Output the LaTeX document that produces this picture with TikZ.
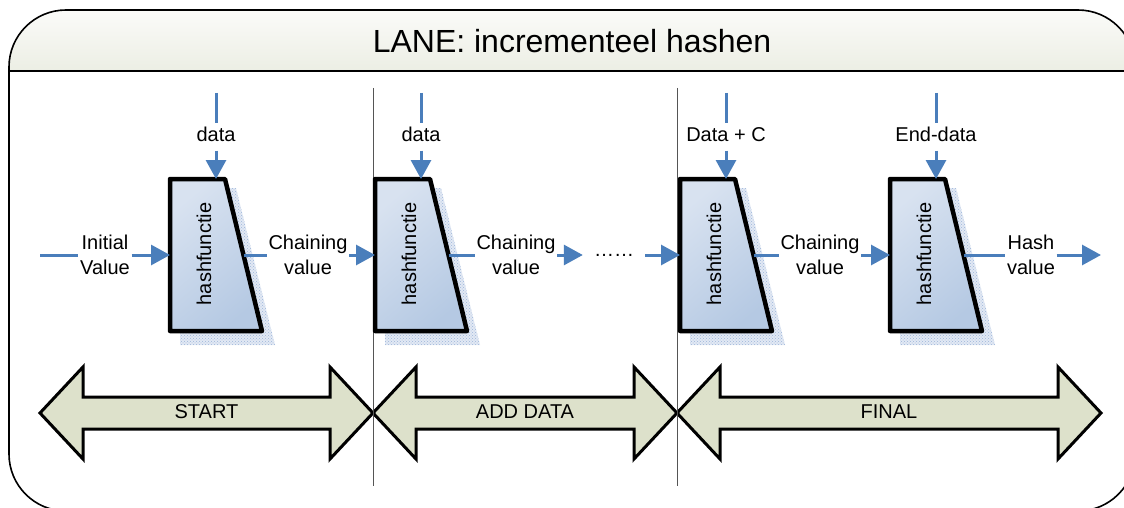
\documentclass[tikz,border=0pt]{standalone}
\usepackage{fontspec}
\setmainfont{Liberation Sans}
\usetikzlibrary{arrows.meta,patterns,calc}

\definecolor{flowblue}{HTML}{4A7EBB}
\definecolor{blockdark}{HTML}{B5C9E3}
\definecolor{blocklight}{HTML}{D8E2F0}
\definecolor{shadowblue}{HTML}{9DB5DA}
\definecolor{shadowbase}{HTML}{E2E9F4}
\definecolor{phasefill}{HTML}{DDE1CB}
\definecolor{bandtop}{HTML}{FDFDFC}
\definecolor{bandbottom}{HTML}{ECEEE4}
\definecolor{sepgrey}{HTML}{555555}

\tikzset{
  flow/.style={draw=flowblue, line width=3pt},
  flowarrow/.style={flow, -{Triangle[length=19pt,width=20pt]}},
  lbl/.style={fill=white, inner xsep=1.5pt, inner ysep=0pt, align=center,
    font=\fontsize{20}{25}\selectfont},
  datalbl/.style={fill=white, inner xsep=1.5pt, inner ysep=4pt,
    text height=14.5pt, text depth=4.5pt, font=\fontsize{20}{25}\selectfont},
  phase/.style={draw=black, line width=3pt, line join=miter, fill=phasefill},
  phaselbl/.style={font=\fontsize{20}{24}\selectfont},
  sepline/.style={draw=sepgrey, line width=1pt},
  % one compression step: shadowed trapezoid with in/out/top ports
  hashblock/.pic={
    \fill[shadowbase] (10,-9) -- (66,-9) -- (105,-166) -- (10,-166) -- cycle;
    \fill[pattern=crosshatch dots, pattern color=shadowblue]
      (10,-9) -- (66,-9) -- (105,-166) -- (10,-166) -- cycle;
    \shade[top color=blocklight, bottom color=blockdark, shading angle=40]
      (0,0) -- (55,0) -- (92,-152) -- (0,-152) -- cycle;
    \draw[line width=4.5pt, line join=round]
      (0,0) -- (55,0) -- (92,-152) -- (0,-152) -- cycle;
    \node[rotate=90, font=\fontsize{20}{24}\selectfont] (-txt) at (34,-75) {hashfunctie};
    \coordinate (-in) at (0,-76);
    \coordinate (-out) at (73.5,-76);
    \coordinate (-top) at (46,0);
  }
}

% phase arrow: name, left tip x, right tip x, text
\newcommand\phasearrow[4]{%
  \draw[phase] (#2,-413) -- ({#2+43},-367) -- ({#2+43},-397) -- ({#3-43},-397)
    -- ({#3-43},-367) -- (#3,-413) -- ({#3-43},-459) -- ({#3-43},-429)
    -- ({#2+43},-429) -- ({#2+43},-459) -- cycle;
  \node[phaselbl] (#1) at ({(#2+#3)/2},-412) {#4};
}

\begin{document}
\begin{tikzpicture}[x=1pt,y=1pt]
  \useasboundingbox (0,0) rectangle (1124,-508);
  \clip (0,0) rectangle (1124,-508);

  % outer frame with shaded title band
  \fill[white, rounded corners=57pt] (9,-10) rectangle (1135,-511);
  \begin{scope}
    \clip[rounded corners=57pt] (9,-10) rectangle (1135,-511);
    \shade[top color=bandtop, bottom color=bandbottom] (0,0) rectangle (1140,-71);
  \end{scope}
  \draw[line width=1.6pt, rounded corners=57pt] (9,-10) rectangle (1135,-511);
  \draw[line width=2pt] (9,-71) -- (1135,-71);
  \node[font=\fontsize{32}{38}\selectfont] (title) at (572,-41) {LANE: incrementeel hashen};

  % phase separators
  \coordinate (s1t) at (373.5,-88);  \coordinate (s1b) at (373.5,-486);
  \coordinate (s2t) at (677.5,-88);  \coordinate (s2b) at (677.5,-486);

  % phase arrows
  \phasearrow{start}{40}{373}{START}
  \phasearrow{add}{373}{677}{ADD DATA}
  \phasearrow{final}{677}{1101}{FINAL}

  \draw[sepline] (s1t) -- (s1b);
  \draw[sepline] (s2t) -- (s2b);

  % compression steps
  \pic (h1) at (170,-179) {hashblock};
  \pic (h2) at (375,-179) {hashblock};
  \pic (h3) at (680,-179) {hashblock};
  \pic (h4) at (890,-179) {hashblock};

  % data inputs
  \coordinate (d1t) at (216,-93);
  \coordinate (d2t) at (421,-93);
  \coordinate (d3t) at (726,-93);
  \coordinate (d4t) at (936,-93);
  \node[datalbl] (d1) at (216,-137) {data};
  \node[datalbl] (d2) at (421,-137) {data};
  \node[datalbl] (d3) at (726,-137) {Data + C};
  \node[datalbl] (d4) at (936,-137) {End-data};
  \foreach \i in {1,...,4}{
    \draw[flow] (d\i t) -- (d\i.north);
    \draw[flowarrow] (d\i.south) -- (h\i-top);
  }

  % chaining path
  \coordinate (ivs) at (40,-255);
  \coordinate (hve) at (1101,-255);
  \node[lbl] (iv) at (105,-255) {Initial\\Value};
  \node[lbl] (c1) at (308,-255) {Chaining\\value};
  \node[lbl] (c2) at (516,-255) {Chaining\\value};
  \node[lbl, minimum width=62pt, inner sep=0pt] (dots) at (614,-255) {……};
  \node[lbl] (c3) at (820,-255) {Chaining\\value};
  \node[lbl] (hv) at (1031,-255) {Hash\\value};

  \draw[flow] (ivs) -- (iv.west);
  \draw[flowarrow] (iv.east) -- (h1-in);
  \draw[flow] (h1-out) -- (c1.west);
  \draw[flowarrow] (c1.east) -- (h2-in);
  \draw[flow] (h2-out) -- (c2.west);
  \draw[flowarrow] (c2.east) -- (dots.west);
  \draw[flowarrow] (dots.east) -- (h3-in);
  \draw[flow] (h3-out) -- (c3.west);
  \draw[flowarrow] (c3.east) -- (h4-in);
  \draw[flow] (h4-out) -- (hv.west);
  \draw[flowarrow] (hv.east) -- (hve);
\end{tikzpicture}
\end{document}
